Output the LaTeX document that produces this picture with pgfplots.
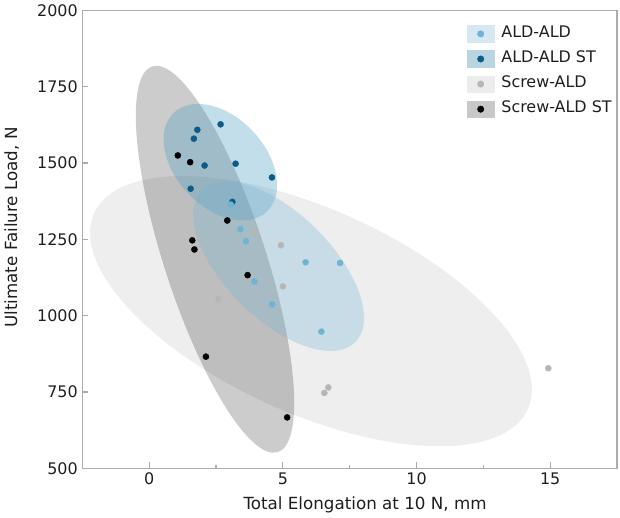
\documentclass[border=0pt]{standalone}
\usepackage{fontspec}
\setmainfont{DejaVu Sans}
\usepackage{pgfplots}
\usepackage{pgfplotstable}
\pgfplotsset{compat=1.18}

\definecolor{aldc}{RGB}{112,180,212}
\definecolor{aldst}{RGB}{12,92,138}
\definecolor{scr}{RGB}{182,182,182}
\definecolor{scrst}{RGB}{0,0,0}
\definecolor{axgrey}{RGB}{172,172,172}
\definecolor{txt}{RGB}{30,30,30}
\definecolor{ellald}{RGB}{112,180,212}
\definecolor{ellaldst}{RGB}{80,160,195}
\definecolor{ellscr}{RGB}{180,180,180}
\definecolor{sw1}{RGB}{214,233,242}
\definecolor{sw2}{RGB}{185,213,226}
\definecolor{sw3}{RGB}{236,236,236}
\definecolor{sw4}{RGB}{200,200,200}

\pgfplotstableread{
x y
1.80 1609
2.67 1627
1.67 1580
2.07 1492
3.23 1498
4.59 1453
1.55 1416
3.11 1373
}\aldst

\pgfplotstableread{
x y
3.05 1364
3.41 1284
3.62 1244
5.85 1175
7.14 1173
3.93 1112
4.60 1037
6.44 948
}\ald

\pgfplotstableread{
x y
3.98 1275
4.93 1231
3.66 1116
5.00 1096
2.58 1055
14.93 828
6.70 765
6.55 747
}\scr

\pgfplotstableread{
x y
1.07 1525
1.53 1503
1.61 1247
1.69 1217
2.92 1312
3.68 1133
2.12 866
5.16 667
}\scrst

\begin{document}
\begin{tikzpicture}
\begin{axis}[
  scale only axis,
  width=402.75pt, height=345pt,
  xmin=-2.5, xmax=17.5, ymin=500, ymax=2000,
  xtick={0,5,10,15},
  ytick={500,750,1000,1250,1500,1750,2000},
  minor x tick num=1,
  tick pos=left,
  tick align=inside,
  major tick length=4.5pt,
  minor tick length=2.5pt,
  axis line style={draw=axgrey, line width=1.1pt},
  every tick/.style={draw=axgrey, line width=0.9pt},
  /pgf/number format/assume math mode=true,
  /pgf/number format/1000 sep={},
  ticklabel style={font=\fontsize{12}{14}\selectfont, text=txt},
  xlabel={Total Elongation at 10 N, mm},
  ylabel={Ultimate Failure Load, N},
  every axis x label/.style={at={(rel axis cs:0.5287,-0.0804)}, anchor=center, font=\fontsize{12.6}{15}\selectfont, text=txt},
  every axis y label/.style={at={(rel axis cs:-0.1322,0.526)}, anchor=center, rotate=90, font=\fontsize{12.6}{15}\selectfont, text=txt},
  legend cell align=left,
  legend style={at={(rel axis cs:0.7182,0.968)}, anchor=north west, draw=none, fill=none,
    inner sep=0pt, row sep=6pt,
    font=\fontsize{12}{14}\selectfont, text=txt,
    nodes={inner sep=0pt, text height=9pt, text depth=3.4pt},
    /tikz/every even column/.append style={column sep=0pt}},
  scatter pts/.style={only marks, mark=*, mark size=2.3pt, line width=0.3pt, forget plot},
]
\addlegendimage{legend image code/.code={\fill[sw1] (0pt,-6.25pt) rectangle (20.8pt,6.25pt); \fill[aldc] (10.4pt,0pt) circle (2.4pt); \path (25.8pt,0pt);}}
\addlegendentry{ALD-ALD}
\addlegendimage{legend image code/.code={\fill[sw2] (0pt,-6.25pt) rectangle (20.8pt,6.25pt); \fill[aldst] (10.4pt,0pt) circle (2.4pt); \path (25.8pt,0pt);}}
\addlegendentry{ALD-ALD ST}
\addlegendimage{legend image code/.code={\fill[sw3] (0pt,-6.25pt) rectangle (20.8pt,6.25pt); \fill[scr] (10.4pt,0pt) circle (2.4pt); \path (25.8pt,0pt);}}
\addlegendentry{Screw-ALD}
\addlegendimage{legend image code/.code={\fill[sw4] (0pt,-6.25pt) rectangle (20.8pt,6.25pt); \fill[scrst] (10.4pt,0pt) circle (2.4pt); \path (25.8pt,0pt);}}
\addlegendentry{Screw-ALD ST}

% Screw-ALD ellipse and points
\fill[ellscr, fill opacity=0.23, rotate around={-24.3:(axis cs:6.05,1015)}] (axis cs:6.05,1015) ellipse [x radius=179.25pt, y radius=76.9pt];
\addplot[scatter pts, color=scr] table {\scr};
% Screw-ALD ST ellipse
\fill[black, fill opacity=0.2, rotate around={-71.96:(axis cs:2.46,1185)}] (axis cs:2.46,1185) ellipse [x radius=152.8pt, y radius=38.2pt];
% ALD-ALD ST ellipse
\fill[ellaldst, fill opacity=0.35, rotate around={-46.9:(axis cs:2.66,1503)}] (axis cs:2.66,1503) ellipse [x radius=51.1pt, y radius=33.8pt];
\addplot[scatter pts, color=scrst] table {\scrst};
% ALD-ALD ellipse
\fill[ellald, fill opacity=0.3, rotate around={-44.6:(axis cs:4.84,1162)}] (axis cs:4.84,1162) ellipse [x radius=81.3pt, y radius=40pt];
\addplot[scatter pts, color=aldst] table {\aldst};
\addplot[scatter pts, color=aldc] table {\ald};
\end{axis}
\path (-60pt,-36.75pt) rectangle (405pt,351pt);
\end{tikzpicture}
\end{document}
